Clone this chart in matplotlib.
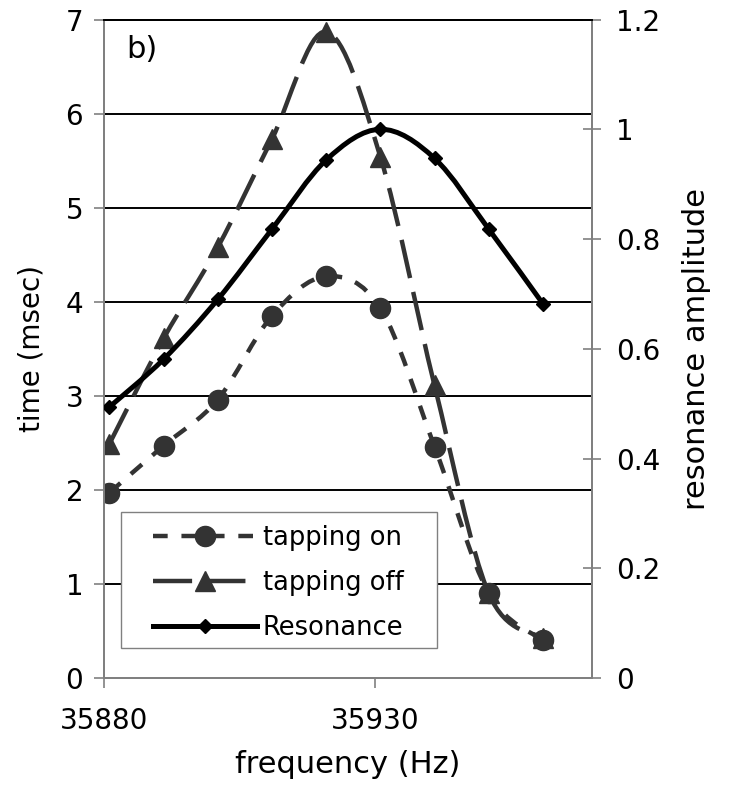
import numpy as np
import matplotlib.pyplot as plt
from matplotlib.path import Path
from matplotlib.patches import PathPatch, Rectangle
from matplotlib.lines import Line2D
from matplotlib.ticker import FuncFormatter

# frequency sweep (Hz)
freq = [35881, 35891, 35901, 35911, 35921, 35931, 35941, 35951, 35961]
# times on the left axis (msec)
tapping_on = [1.97, 2.47, 2.96, 3.85, 4.27, 3.93, 2.46, 0.90, 0.40]
tapping_off = [2.49, 3.61, 4.58, 5.73, 6.87, 5.54, 3.11, 0.90, 0.42]
# normalised amplitude on the right axis
resonance = [0.494, 0.581, 0.690, 0.818, 0.944, 1.0, 0.947, 0.818, 0.682]

GREY = "#333333"
AXIS_GREY = "#808080"

plt.rcParams["font.family"] = "DejaVu Sans"


def smooth_path(x, y):
    # Excel-style smoothed line: cubic Bezier segments through every point
    p = np.column_stack([x, y]).astype(float)
    ext = np.vstack([p[0], p, p[-1]])
    verts = [p[0]]
    codes = [Path.MOVETO]
    for i in range(len(p) - 1):
        p0, p1, p2, p3 = ext[i], ext[i + 1], ext[i + 2], ext[i + 3]
        verts += [p1 + (p2 - p0) / 6, p2 - (p3 - p1) / 6, p2]
        codes += [Path.CURVE4] * 3
    return Path(verts, codes)


def draw_series(axis, x, y, color, lw, dashes, marker, ms):
    patch = PathPatch(smooth_path(x, y), fill=False, edgecolor=color, lw=lw,
                      capstyle="butt", joinstyle="round", zorder=3)
    if dashes is not None:
        patch.set_linestyle((0, dashes))
    axis.add_patch(patch)
    axis.plot(x, y, linestyle="none", marker=marker, ms=ms, color=color,
              mec=color, zorder=4)
    return Line2D([], [], color=color, lw=lw, marker=marker, ms=ms,
                  linestyle=(0, dashes) if dashes is not None else "-",
                  dash_capstyle="butt")


fig = plt.figure(figsize=(7.3, 7.87), dpi=100)
ax = fig.add_axes([0.1425, 0.1385, 0.668, 0.8367])
ax2 = ax.twinx()

ax.set_xlim(35880, 35970)
ax.set_ylim(0, 7)
ax2.set_ylim(0, 1.2)

# horizontal grid
for level in range(1, 7):
    ax.axhline(level, color="black", lw=1.4, zorder=1)

h_on = draw_series(ax, freq, tapping_on, GREY, 3.2, (3.3, 3.1), "o", 14.5)
h_off = draw_series(ax, freq, tapping_off, GREY, 3.2, (8.8, 3.2), "^", 14.5)
h_res = draw_series(ax2, freq, resonance, "black", 3.6, None, "D", 7)

for a in (ax, ax2):
    for side in ("left", "bottom", "right"):
        a.spines[side].set_color(AXIS_GREY)
        a.spines[side].set_linewidth(1.4)
    a.spines["top"].set_color("black")
    a.spines["top"].set_linewidth(1.4)

ax.set_xticks([35880, 35930])
ax.set_yticks(range(0, 8))
ax.tick_params(axis="both", direction="out", length=7, width=1.2,
               color=AXIS_GREY, labelsize=20)
ax.tick_params(axis="y", pad=8)
ax.tick_params(axis="x", pad=14)
ax2.set_yticks(np.arange(0, 1.21, 0.2))
ax2.yaxis.set_major_formatter(FuncFormatter(lambda v, _: f"{v:g}"))
ax2.tick_params(axis="y", direction="inout", length=13, width=1.2,
                color=AXIS_GREY, labelsize=20, pad=11)

ax.set_xlabel("frequency (Hz)", fontsize=22, labelpad=11)
ax.set_ylabel("time (msec)", fontsize=20, labelpad=14)
ax2.set_ylabel("resonance amplitude", fontsize=22, labelpad=16)

ax.text(0.045, 0.976, "b)", transform=ax.transAxes, fontsize=22,
        va="top", ha="left")

# legend frame drawn separately so the padding around the entries can be set freely
ax2.add_patch(Rectangle((0.1653, 0.1766), 0.4333, 0.1732, transform=fig.transFigure,
                        facecolor="white", edgecolor=AXIS_GREY, lw=1.0, zorder=9))
leg = ax2.legend([h_on, h_off, h_res], ["tapping on", "tapping off", "Resonance"],
                 loc="upper left", bbox_to_anchor=(0.2096, 0.333),
                 bbox_transform=fig.transFigure, fontsize=18.5, frameon=False,
                 handlelength=4.05, handletextpad=0.22, borderpad=0,
                 labelspacing=0.74, borderaxespad=0)
leg.set_zorder(10)

fig.savefig("out.png", dpi=100)
